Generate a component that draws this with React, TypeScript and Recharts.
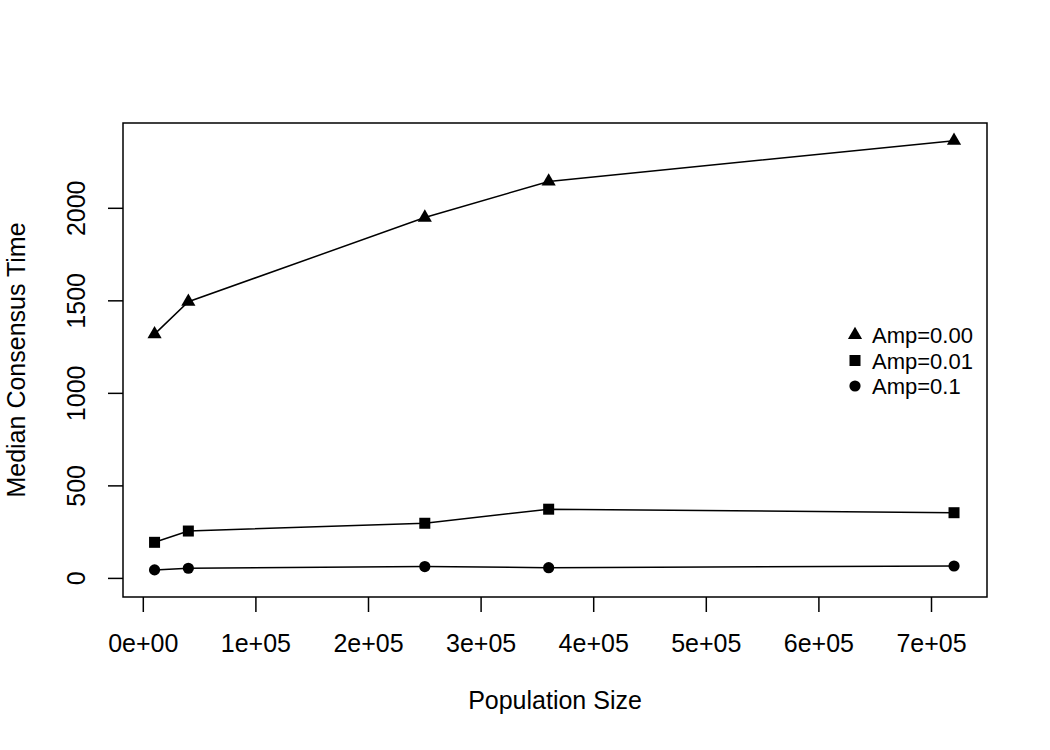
import React from 'react';
import { LineChart, Line, XAxis, YAxis, ReferenceArea, Legend } from 'recharts';

// ---- data ----
const populationSizes = [10000, 40000, 250000, 360000, 720000];
const ampZero = [1320, 1495, 1950, 2145, 2365]; // Amp=0.00 (triangles)
const ampSmall = [195, 256, 298, 374, 355]; // Amp=0.01 (squares)
const ampLarge = [46, 55, 64, 58, 67]; // Amp=0.1 (circles)

const xTicks = [0, 100000, 200000, 300000, 400000, 500000, 600000, 700000];
const xTickLabels = ['0e+00', '1e+05', '2e+05', '3e+05', '4e+05', '5e+05', '6e+05', '7e+05'];
const yTicks = [0, 500, 1000, 1500, 2000];
const legendLabels = ['Amp=0.00', 'Amp=0.01', 'Amp=0.1'];

const xDomain: [number, number] = [-18030, 749290];
const yDomain: [number, number] = [-100.5, 2461];

const data = populationSizes.map((x, i) => ({
  x,
  a0: ampZero[i],
  a1: ampSmall[i],
  a2: ampLarge[i],
}));

const FONT = '"Liberation Sans", Arial, Helvetica, sans-serif';
const FS = 25;
const LFS = 22;

const Triangle = ({ cx, cy }: { cx: number; cy: number }) => (
  <path d={`M${cx},${cy - 8.2} L${cx + 7.1},${cy + 4.1} L${cx - 7.1},${cy + 4.1} Z`} fill="#000" />
);
const Square = ({ cx, cy }: { cx: number; cy: number }) => (
  <rect x={cx - 5.5} y={cy - 5.5} width={11} height={11} fill="#000" />
);
const Dot = ({ cx, cy }: { cx: number; cy: number }) => <circle cx={cx} cy={cy} r={5.6} fill="#000" />;

const makeDot = (Shape: any) => (props: any) => {
  const { cx, cy, index } = props;
  if (cx == null || cy == null) return <g key={`e${index}`} />;
  return <Shape key={`d${index}`} cx={cx} cy={cy} />;
};

const XTick = (props: any) => {
  const { x, y, payload } = props;
  const idx = xTicks.indexOf(payload.value);
  return (
    <text x={x} y={y + 40} textAnchor="middle" fontFamily={FONT} fontSize={FS} fill="#000">
      {idx >= 0 ? xTickLabels[idx] : payload.value}
    </text>
  );
};

const YTick = (props: any) => {
  const { x, y, payload } = props;
  const bx = x - 23;
  return (
    <text
      x={bx}
      y={y}
      transform={`rotate(-90, ${bx}, ${y})`}
      textAnchor="middle"
      fontFamily={FONT}
      fontSize={FS}
      fill="#000"
    >
      {payload.value}
    </text>
  );
};

const XLabel = (props: any) => {
  const vb = props.viewBox || {};
  return (
    <text
      x={vb.x + vb.width / 2}
      y={vb.y + 112}
      textAnchor="middle"
      fontFamily={FONT}
      fontSize={FS}
      fill="#000"
    >
      Population Size
    </text>
  );
};

const YLabel = (props: any) => {
  const vb = props.viewBox || {};
  const cx = vb.x + 25;
  const cy = vb.y + vb.height / 2;
  return (
    <text
      x={cx}
      y={cy}
      transform={`rotate(-90, ${cx}, ${cy})`}
      textAnchor="middle"
      fontFamily={FONT}
      fontSize={FS}
      fill="#000"
    >
      Median Consensus Time
    </text>
  );
};

const LegendContent = () => {
  const shapes = [Triangle, Square, Dot];
  const rowsY = [15, 40.5, 66];
  return (
    <svg width={160} height={82} style={{ display: 'block', overflow: 'visible' }}>
      {legendLabels.map((label, i) => {
        const S = shapes[i];
        return (
          <g key={label}>
            <S cx={15} cy={rowsY[i]} />
            <text x={32} y={rowsY[i] + 8} fontFamily={FONT} fontSize={LFS} fill="#000">
              {label}
            </text>
          </g>
        );
      })}
    </svg>
  );
};

export default function App() {
  return (
    <div style={{ position: 'absolute', left: 0, top: 0, width: 1050, height: 750, background: '#fff' }}>
      <LineChart
        width={1050}
        height={750}
        data={data}
        margin={{ top: 123, right: 63, bottom: 0, left: 0 }}
      >
        <XAxis
          dataKey="x"
          type="number"
          domain={xDomain}
          allowDataOverflow
          ticks={xTicks}
          interval={0}
          height={153}
          axisLine={false}
          tickLine={{ stroke: '#000', strokeWidth: 1.5 }}
          tickSize={15}
          tickMargin={0}
          tick={<XTick />}
          label={<XLabel />}
        />
        <YAxis
          type="number"
          domain={yDomain}
          allowDataOverflow
          ticks={yTicks}
          interval={0}
          width={123}
          axisLine={false}
          tickLine={{ stroke: '#000', strokeWidth: 1.5 }}
          tickSize={15}
          tickMargin={0}
          tick={<YTick />}
          label={<YLabel />}
        />
        <ReferenceArea
          x1={xDomain[0]}
          x2={xDomain[1]}
          y1={yDomain[0]}
          y2={yDomain[1]}
          fill="none"
          fillOpacity={0}
          stroke="#000"
          strokeWidth={1.5}
          ifOverflow="visible"
        />
        <Line
          dataKey="a0"
          type="linear"
          stroke="#000"
          strokeWidth={1.5}
          dot={makeDot(Triangle)}
          activeDot={false}
          isAnimationActive={false}
        />
        <Line
          dataKey="a1"
          type="linear"
          stroke="#000"
          strokeWidth={1.5}
          dot={makeDot(Square)}
          activeDot={false}
          isAnimationActive={false}
        />
        <Line
          dataKey="a2"
          type="linear"
          stroke="#000"
          strokeWidth={1.5}
          dot={makeDot(Dot)}
          activeDot={false}
          isAnimationActive={false}
        />
        <Legend
          layout="vertical"
          align="center"
          verticalAlign="middle"
          content={<LegendContent />}
          wrapperStyle={{ position: 'absolute', left: 840, top: 320, width: 160, height: 82 }}
        />
      </LineChart>
    </div>
  );
}
